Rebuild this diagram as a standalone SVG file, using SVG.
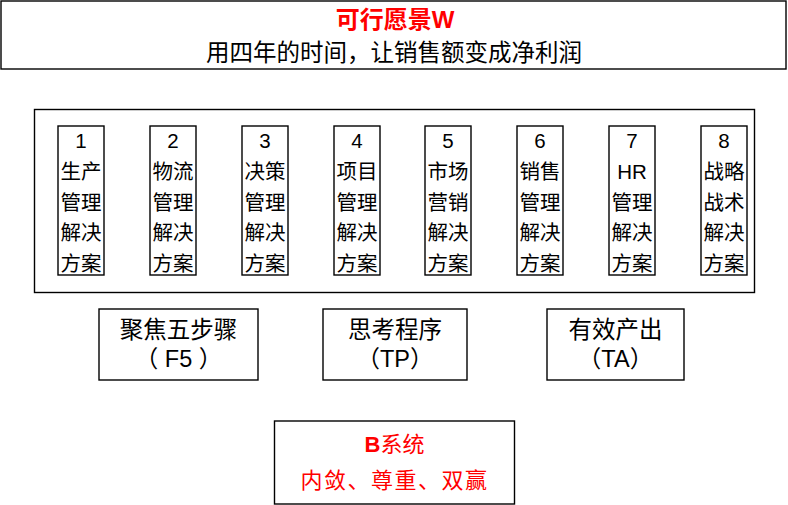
<svg xmlns="http://www.w3.org/2000/svg" width="788" height="505" viewBox="0 0 788 505">
<style>
  .box{fill:#fff;stroke:#000;stroke-width:1.4}
  .t{font-family:"Liberation Sans","Noto Sans CJK SC",sans-serif;fill:#000;text-anchor:middle}
  .col{font-size:20.5px}
  .mid{font-size:23.5px}
  .red{fill:#ff0000}
</style>
<rect width="788" height="505" fill="#fff"/>
<g id="vision">
  <rect class="box" x="1" y="1" width="785" height="68"/>
  <text class="t red" x="395" y="28" font-size="24" font-weight="bold">可行愿景W</text>
  <text class="t" x="394" y="61" font-size="23.5">用四年的时间，让销售额变成净利润</text>
</g>
<g id="solutions">
  <rect class="box" x="34.5" y="109.5" width="720" height="183"/>
</g>
<g id="col1"><rect class="box" x="58" y="126" width="46" height="149"/>
  <text class="t col" x="81" y="148">1</text><text class="t col" x="81" y="179">生产</text><text class="t col" x="81" y="210">管理</text><text class="t col" x="81" y="240">解决</text><text class="t col" x="81" y="271">方案</text></g>
<g id="col2"><rect class="box" x="150" y="126" width="46" height="149"/>
  <text class="t col" x="173" y="148">2</text><text class="t col" x="173" y="179">物流</text><text class="t col" x="173" y="210">管理</text><text class="t col" x="173" y="240">解决</text><text class="t col" x="173" y="271">方案</text></g>
<g id="col3"><rect class="box" x="242" y="126" width="46" height="149"/>
  <text class="t col" x="265" y="148">3</text><text class="t col" x="265" y="179">决策</text><text class="t col" x="265" y="210">管理</text><text class="t col" x="265" y="240">解决</text><text class="t col" x="265" y="271">方案</text></g>
<g id="col4"><rect class="box" x="334" y="126" width="46" height="149"/>
  <text class="t col" x="357" y="148">4</text><text class="t col" x="357" y="179">项目</text><text class="t col" x="357" y="210">管理</text><text class="t col" x="357" y="240">解决</text><text class="t col" x="357" y="271">方案</text></g>
<g id="col5"><rect class="box" x="425" y="126" width="46" height="149"/>
  <text class="t col" x="448" y="148">5</text><text class="t col" x="448" y="179">市场</text><text class="t col" x="448" y="210">营销</text><text class="t col" x="448" y="240">解决</text><text class="t col" x="448" y="271">方案</text></g>
<g id="col6"><rect class="box" x="517" y="126" width="46" height="149"/>
  <text class="t col" x="540" y="148">6</text><text class="t col" x="540" y="179">销售</text><text class="t col" x="540" y="210">管理</text><text class="t col" x="540" y="240">解决</text><text class="t col" x="540" y="271">方案</text></g>
<g id="col7"><rect class="box" x="609" y="126" width="46" height="149"/>
  <text class="t col" x="632" y="148">7</text><text class="t col" x="632" y="179">HR</text><text class="t col" x="632" y="210">管理</text><text class="t col" x="632" y="240">解决</text><text class="t col" x="632" y="271">方案</text></g>
<g id="col8"><rect class="box" x="701" y="126" width="46" height="149"/>
  <text class="t col" x="724" y="148">8</text><text class="t col" x="724" y="179">战略</text><text class="t col" x="724" y="210">战术</text><text class="t col" x="724" y="240">解决</text><text class="t col" x="724" y="271">方案</text></g>
<g id="f5"><rect class="box" x="99" y="309" width="159" height="71"/>
  <text class="t mid" x="178.5" y="338">聚焦五步骤</text><text class="t mid" x="178.5" y="367">（ F5 ）</text></g>
<g id="tp"><rect class="box" x="323" y="309" width="144" height="71"/>
  <text class="t mid" x="395" y="338">思考程序</text><text class="t mid" x="395" y="367">（TP）</text></g>
<g id="ta"><rect class="box" x="547" y="309" width="137" height="71"/>
  <text class="t mid" x="615.5" y="338">有效产出</text><text class="t mid" x="615.5" y="367">（TA）</text></g>
<g id="bsystem"><rect class="box" x="274.5" y="421" width="240" height="83"/>
  <text class="t red" x="394.5" y="452" font-size="22"><tspan font-weight="bold">B</tspan>系统</text>
  <text class="t red" x="394.5" y="488" font-size="22" letter-spacing="1.5">内敛、尊重、双赢</text></g>
<g id="connectors"></g>
</svg>
